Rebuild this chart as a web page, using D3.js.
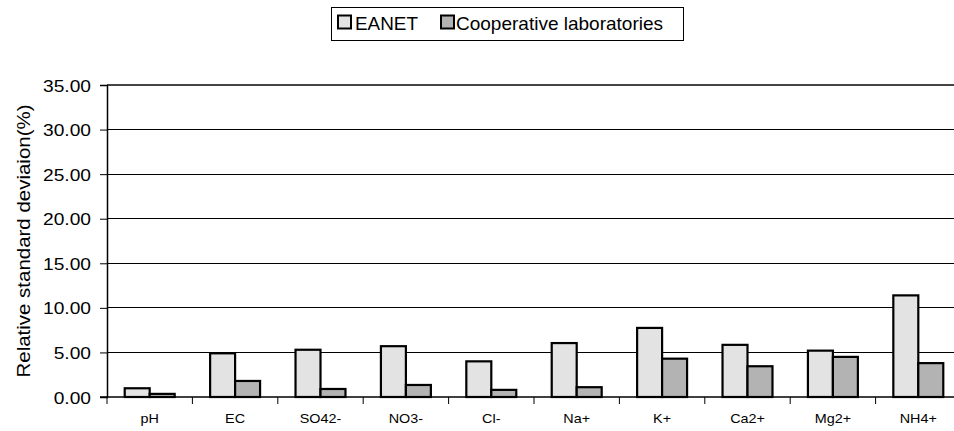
<!DOCTYPE html>
<html><head><meta charset="utf-8">
<script src="https://cdn.jsdelivr.net/npm/d3@7"></script>
<style>body{margin:0;background:#fff}svg{display:block;font-family:"Liberation Sans",Arial,sans-serif}</style>
</head><body><svg id="c" width="954" height="431"></svg>
<script>
const categories = ["pH","EC","SO42-","NO3-","Cl-","Na+","K+","Ca2+","Mg2+","NH4+"];
const eanet = [0.98,4.9,5.3,5.7,4.0,6.05,7.75,5.85,5.2,11.4];
const coop = [0.35,1.8,0.9,1.35,0.8,1.1,4.3,3.45,4.5,3.8];
const seriesNames = ["EANET","Cooperative laboratories"];
const yTicks = [0,5,10,15,20,25,30,35];

const svg = d3.select("#c");
const L=107, R=961, T=85, B=397;
const x = d3.scaleBand().domain(categories).range([L,R]).paddingInner(0.415).paddingOuter(0.2075);
const y = d3.scaleLinear().domain([0,35]).range([B,T]);
const colors = ["#e3e3e3","#b3b3b3"];

// gridlines
svg.append("g").selectAll("line").data(yTicks.filter(d=>d>0)).join("line")
  .attr("x1",L).attr("x2",954).attr("y1",d=>y(d)).attr("y2",d=>y(d))
  .attr("stroke",d=>d===35?"#444":"#000").attr("stroke-width",d=>d===35?2:1).attr("shape-rendering","crispEdges");

// y axis
const ya = svg.append("g").attr("transform",`translate(${L},0)`)
  .call(d3.axisLeft(y).tickValues(yTicks).tickFormat(d3.format(".2f")).tickSize(7).tickPadding(8));
ya.select(".domain").attr("stroke","#000").attr("stroke-width",1.5);
ya.selectAll(".tick line").attr("stroke","#000");
ya.selectAll(".tick text").attr("x",0).attr("dy","0.36em").attr("text-anchor","end")
  .attr("transform","translate(-16,0) scale(1.13,1)")
  .attr("font-size",17).attr("fill","#000").attr("font-family","Liberation Sans, Arial, sans-serif");

// bars
const bw = x.bandwidth()/2;
const data = [eanet, coop];
data.forEach((vals,si)=>{
  svg.append("g").selectAll("rect").data(categories).join("rect")
    .attr("x",(c)=>x(c)+si*bw).attr("width",bw)
    .attr("y",(c,i)=>y(vals[i])).attr("height",(c,i)=>B-y(vals[i]))
    .attr("fill",colors[si]).attr("stroke","#000").attr("stroke-width",2.2);
});

// x axis
const xa = svg.append("g").attr("transform",`translate(0,${B})`);
xa.append("line").attr("x1",L-7).attr("x2",954).attr("stroke","#000").attr("stroke-width",1.5);
const xt = categories.map(c=>x(c)-x.step()*x.paddingInner()/2).concat([x(categories[categories.length-1])+x.bandwidth()+x.step()*x.paddingInner()/2]);
xa.selectAll("line.t").data(xt).join("line").attr("class","t")
  .attr("x1",d=>d).attr("x2",d=>d).attr("y1",0).attr("y2",7).attr("stroke","#000");
xa.selectAll("text").data(categories).join("text")
  .attr("transform",c=>`translate(${x(c)+x.bandwidth()/2},25.5) scale(1.15,1)`)
  .attr("text-anchor","middle")
  .attr("font-size",12.5).attr("fill","#000").text(c=>c);

// y title
svg.append("text").attr("transform",`translate(29.5,${(T+B)/2}) rotate(-90)`)
  .attr("text-anchor","middle").attr("font-size",18).attr("fill","#000")
  .attr("textLength",273).attr("lengthAdjust","spacingAndGlyphs")
  .text("Relative standard deviaion(%)");

// legend
const lg = svg.append("g");
lg.append("rect").attr("x",331.5).attr("y",7.5).attr("width",352).attr("height",33)
  .attr("fill","#fff").attr("stroke","#000").attr("stroke-width",1);
const lx = [337.5,440.5];
const tx = [355,456];
const tl = [63,207];
seriesNames.forEach((n,i)=>{
  lg.append("rect").attr("x",lx[i]+0.5).attr("y",15.5).attr("width",13).attr("height",13)
    .attr("fill",colors[i]).attr("stroke","#000").attr("stroke-width",2);
  lg.append("text").attr("x",tx[i]).attr("y",29.5).attr("font-size",18.5).attr("fill","#000")
    .attr("textLength",tl[i]).attr("lengthAdjust","spacingAndGlyphs").text(n);
});
</script></body></html>
